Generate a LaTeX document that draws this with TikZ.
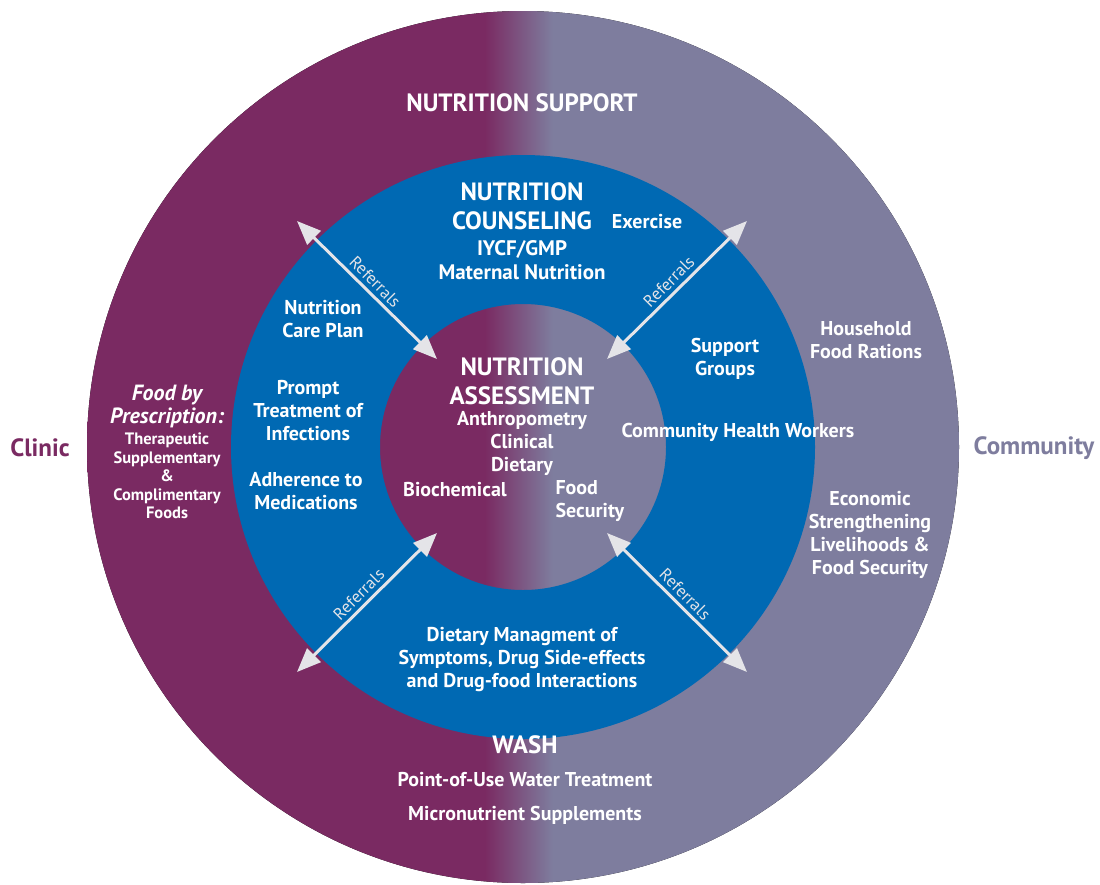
\documentclass[tikz,border=0pt]{standalone}
\usepackage{fontspec}
\setmainfont{PT Sans}
\usepackage{tikz}
\usetikzlibrary{arrows.meta,calc}

\definecolor{clinicpurple}{HTML}{7A2A62}
\definecolor{commgrey}{HTML}{7E7D9E}
\definecolor{ringblue}{HTML}{0069B3}
\definecolor{refgrey}{HTML}{E4E4E8}

% purple on the clinic side, grey on the community side
\pgfdeclarehorizontalshading{careshade}{100bp}{color(0bp)=(clinicpurple); color(47.8bp)=(clinicpurple); color(51.7bp)=(commgrey); color(100bp)=(commgrey)}

\begin{document}
\begin{tikzpicture}[x=1pt,y=-1pt,
  txt/.style={text=white,align=center,font=\bfseries\fontsize{20}{23}\selectfont},
  title/.style={text=white,align=center,font=\bfseries\fontsize{25}{29}\selectfont},
  side/.style={font=\bfseries\fontsize{25}{28}\selectfont},
  small/.style={text=white,align=center,font=\bfseries\fontsize{16.5}{18.5}\selectfont},
  referral/.style={refgrey,line width=3pt,{Triangle[length=24pt,width=19pt]}-{Triangle[length=24pt,width=19pt]}},
  reflabel/.style={text=refgrey,anchor=south,inner sep=4pt,font=\fontsize{17}{18}\selectfont}]
\useasboundingbox (0,0) rectangle (1100,884);
\coordinate (c) at (523,447);
\fill[shading=careshade] (c) circle (436pt);
\fill[ringblue,even odd rule] (c) circle (292pt) (c) circle (143pt);

% referral arrows
\coordinate (tlo) at (297,221);
\coordinate (tli) at (437,359);
\coordinate (tro) at (747,221);
\coordinate (tri) at (607,359);
\coordinate (blo) at (297,672);
\coordinate (bli) at (437,533);
\coordinate (bro) at (747,672);
\coordinate (bri) at (607,533);
\draw[referral] (tlo) -- (tli) node[reflabel,midway,rotate=-45] (reftl) {Referrals};
\draw[referral] (tri) -- (tro) node[reflabel,midway,rotate=45] (reftr) {Referrals};
\draw[referral] (blo) -- (bli) node[reflabel,midway,rotate=45] (refbl) {Referrals};
\draw[referral] (bri) -- (bro) node[reflabel,midway,rotate=-45] (refbr) {Referrals};

% outer ring
\node[title] (supp) at (522,103) {NUTRITION SUPPORT};
\node[side,text=clinicpurple] (clin) at (40,448) {Clinic};
\node[side,text=commgrey] (comm) at (1034,448) {Community};
\node[text=white,align=center,font=\bfseries\itshape\fontsize{22}{23}\selectfont] (presc) at (167,406) {Food by\\Prescription:};
\node[small] (foods) at (167,476) {Therapeutic\\Supplementary\\\&\\Complimentary\\Foods};
\node[txt] (house) at (866,340) {Household\\Food Rations};
\node[txt] (econ) at (870,535) {Economic\\Strengthening\\Livelihoods \&\\Food Security};
\node[title] (wash) at (525,745) {WASH};
\node[txt] (water) at (525,780) {Point-of-Use Water Treatment};
\node[txt] (micro) at (525,815) {Micronutrient Supplements};

% blue ring
\node[title] (couns) at (522,206) {NUTRITION\\COUNSELING};
\node[txt,font=\bfseries\fontsize{21}{24}\selectfont] (iycf) at (522,260) {IYCF/GMP\\Maternal Nutrition};
\node[txt] (exer) at (647,222) {Exercise};
\node[txt] (care) at (323,319) {Nutrition\\Care Plan};
\node[txt] (prompt) at (308,411) {Prompt\\Treatment of\\Infections};
\node[txt] (adher) at (306,491) {Adherence to\\Medications};
\node[txt] (supg) at (725,359) {Support\\Groups};
\node[txt] (chw) at (738,432) {Community Health Workers};
\node[txt] (diet) at (522,659) {Dietary Managment of\\Symptoms, Drug Side-effects\\and Drug-food Interactions};

% inner circle
\node[title] (assess) at (522,381) {NUTRITION\\ASSESSMENT};
\node[txt] (anthro) at (522,443) {Anthropometry\\Clinical\\Dietary};
\node[txt] (bioch) at (455,490) {Biochemical};
\node[txt,align=left,anchor=west] (fsec) at (552,501) {Food\\Security};
\end{tikzpicture}
\end{document}
